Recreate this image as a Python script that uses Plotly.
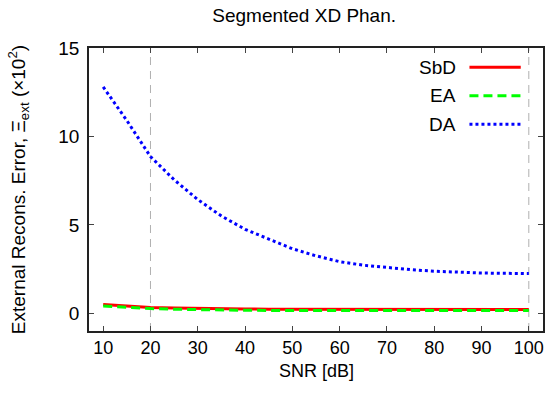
import plotly.graph_objects as go

snr = [10, 15, 20, 25, 30, 35, 40, 45, 50, 55, 60, 65, 70, 75, 80, 85, 90, 95, 100]
sbd = [0.50, 0.40, 0.33, 0.30, 0.27, 0.25, 0.24, 0.235, 0.23, 0.225, 0.22, 0.22, 0.22, 0.22, 0.22, 0.22, 0.22, 0.22, 0.22]
ea = [0.42, 0.33, 0.27, 0.23, 0.20, 0.185, 0.17, 0.165, 0.16, 0.16, 0.16, 0.16, 0.16, 0.16, 0.16, 0.16, 0.16, 0.16, 0.16]
da = [12.8, 10.9, 8.86, 7.55, 6.43, 5.50, 4.75, 4.20, 3.65, 3.25, 2.92, 2.72, 2.58, 2.47, 2.38, 2.32, 2.28, 2.26, 2.25]

series_names = ["SbD", "EA", "DA"]
series_colors = ["#ff0000", "#00ff00", "#0000ff"]
series_dash = ["solid", "9px,5px", "3px,3px"]
ref_lines = [20, 100]

x_ticks = [10, 20, 30, 40, 50, 60, 70, 80, 90, 100]
y_ticks = [0, 5, 10, 15]

FONT = "Liberation Sans, Arial, sans-serif"
FS = 19

fig = go.Figure()
for name, ys, col, dash in zip(series_names, [sbd, ea, da], series_colors, series_dash):
    fig.add_trace(go.Scatter(x=snr, y=ys, mode="lines", name=name,
                             line=dict(color=col, width=3, dash=dash),
                             showlegend=False))

shapes = []
for xv in ref_lines:
    shapes.append(dict(type="line", xref="x", yref="paper", x0=xv, x1=xv, y0=0, y1=1,
                       line=dict(color="#b0b0b0", width=1, dash="8px,6px"), layer="below"))

# gnuplot-style key (text left of the sample line)
annotations = []
leg_y = [0.932, 0.831, 0.731]
for name, col, dash, yy in zip(series_names, series_colors, series_dash, leg_y):
    annotations.append(dict(xref="paper", yref="paper", x=0.8136, y=yy, text=name,
                            showarrow=False, xanchor="right", yanchor="middle",
                            font=dict(family=FONT, size=FS, color="black")))
    shapes.append(dict(type="line", xref="paper", yref="paper", x0=0.838, x1=0.951,
                       y0=yy, y1=yy, line=dict(color=col, width=3, dash=dash)))

# x axis title
annotations.append(dict(xref="paper", yref="paper", x=0.5, y=-0.142, text="SNR [dB]",
                        showarrow=False, xanchor="center", yanchor="middle",
                        font=dict(family=FONT, size=18, color="black")))

fig.update_layout(
    width=553, height=394,
    margin=dict(l=89, r=8, t=48, b=63),
    paper_bgcolor="white", plot_bgcolor="white",
    font=dict(family=FONT, size=FS, color="black"),
    title=dict(text="Segmented XD Phan.", x=0.55, xanchor="center",
               y=1 - 15 / 394, yanchor="middle", font=dict(family=FONT, size=FS)),
    shapes=shapes,
    annotations=annotations,
)

fig.update_xaxes(range=[7, 103], tickvals=x_ticks, ticks="inside", ticklen=5,
                 mirror="ticks", showline=True, linecolor="#222", linewidth=1.5,
                 showgrid=False, zeroline=False, ticklabelstandoff=0,
                 tickfont=dict(size=18))
fig.update_yaxes(range=[-1, 15], tickvals=y_ticks, ticks="inside", ticklen=5,
                 mirror="ticks", showline=True, linecolor="#222", linewidth=1.5,
                 showgrid=False, zeroline=False, ticklabelstandoff=4,
                 title=dict(text="External Recons. Error, Ξ<sub>ext</sub> (×10<sup>2</sup>)",
                            standoff=28, font=dict(size=FS)))

fig.write_html("out.html")
